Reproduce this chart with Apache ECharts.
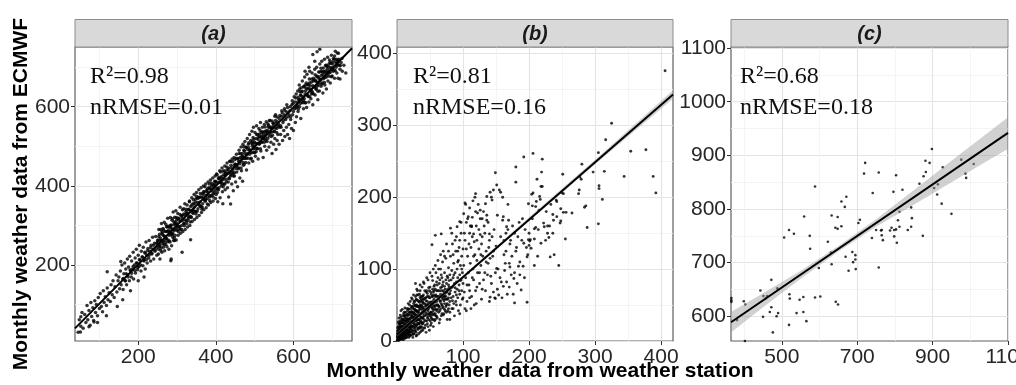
<!DOCTYPE html>
<html><head><meta charset="utf-8">
<script src="https://cdn.jsdelivr.net/npm/echarts@6/dist/echarts.min.js"></script>
<style>html,body{margin:0;padding:0;background:#fff;overflow:hidden}#c{width:1050px;height:385px}</style>
</head><body><div id="c"></div>
<script>
const panelLabels = ['(a)', '(b)', '(c)'];
const r2Labels = ['R\u00b2=0.98', 'R\u00b2=0.81', 'R\u00b2=0.68'];
const nrmseLabels = ['nRMSE=0.01', 'nRMSE=0.16', 'nRMSE=0.18'];
const xTitle = 'Monthly weather data from weather station';
const yTitle = 'Monthly weather data from ECMWF';

const xRangeA = [37, 751], yRangeA = [8, 751];
const xRangeB = [0, 418], yRangeB = [0, 409];
const xRangeC = [365, 1100], yRangeC = [554, 1102];

const xTicksA = [200, 400, 600], xMinorA = [100, 300, 500, 700];
const yTicksA = [200, 400, 600], yMinorA = [100, 300, 500, 700];
const xTicksB = [100, 200, 300, 400], xMinorB = [50, 150, 250, 350];
const yTicksB = [0, 100, 200, 300, 400], yMinorB = [50, 150, 250, 350];
const xTicksC = [500, 700, 900, 1100], xMinorC = [400, 600, 800, 1000];
const yTicksC = [600, 700, 800, 900, 1000, 1100], yMinorC = [650, 750, 850, 950, 1050];

const fitA = [[37, 40], [751, 748]];
const fitB = [[0, 9], [418, 343]];
const fitC = [[365, 589], [1100, 942]];
const bandB = [[0, 6, 12], [100, 87, 91], [200, 167, 172], [300, 246, 252], [418, 337, 349]];
const bandC = [[365, 570, 608], [450, 617, 643], [550, 670, 685], [650, 721, 731], [750, 767, 781],
  [850, 808, 835], [950, 850, 890], [1050, 892, 944], [1100, 912, 971]];

const pointsA = [
[45,30],[48,62],[52,45],[55,80],[58,40],[62,75],[65,55],[68,98],[70,62],[73,85],[76,48],[78,105],[80,70],[83,92],[85,60],[88,110],[90,80],[92,100],[95,72],[97,118],[100,90],[102,128],[105,95],[108,82],[110,135],[112,105],[115,120],[118,98],[120,142],[122,112],[125,130],[128,108],[130,150],[133,125],[135,160],[138,118],[140,145],[143,175],[145,132],[148,160],
[52,69],[51,31],[73,44],[86,56],[120,183],[155,209],[146,95],[160,112],[118,72],[95,55],[180,135],[200,160],[215,170],
[150,170],[152,140],[154,185],[156,150],[158,200],[160,165],[161,138],[163,178],[165,205],[167,160],[168,190],[170,150],[172,215],[173,175],[175,195],[177,160],[178,222],[180,185],[182,170],[183,210],[185,190],[187,232],[188,165],[190,200],[192,218],[193,180],[195,240],[197,205],[198,188],[200,225],[202,196],[203,250],[205,212],[207,185],[208,235],[210,220],[212,198],[213,245],[215,210],[217,232],[218,190],[220,258],[222,225],[223,205],[225,242],[227,218],[228,262],[230,235],[232,210],[233,250],[235,228],[237,270],[238,240],[240,215],[242,255],[243,235],[245,272],[247,245],[248,225],[250,262],
[162,166],[166,160],[169,178],[174,170],[179,188],[183,179],[187,196],[191,186],[195,205],[199,194],[203,214],[206,200],[211,220],[214,212],[218,230],[221,214],[224,236],[228,225],[232,244],[235,230],[239,250],[244,238],[247,255],
[251,263],[252,228],[253,290],[254,246],[255,278],[256,215],[257,262],[258,290],[259,243],[260,305],[261,232],[262,281],[263,258],[264,292],[265,245],[266,274],[267,308],[268,236],[269,285],[270,258],[271,303],[272,268],[273,297],[274,246],[275,285],[276,318],[277,259],[278,298],[279,240],[280,283],
[281,295],[282,258],[283,320],[284,276],[285,301],[286,249],[287,291],[288,317],[289,270],[290,334],[291,262],[292,309],[293,287],[294,321],[295,275],[296,303],[297,337],[298,263],[299,314],[300,288],
[302,330],[303,275],[305,318],[306,292],[308,346],[309,280],[311,324],[312,300],[314,340],[315,285],[317,329],[318,305],[320,355],[321,290],[323,335],[324,311],[326,352],[327,296],[329,340],[330,318],
[332,362],[333,300],[335,348],[336,322],[338,370],[339,310],[341,355],[342,330],[344,378],[345,315],[347,360],[348,335],[350,383],[351,320],[353,368],[354,342],[356,390],[357,325],[359,372],[360,348],
[362,395],[363,333],[365,380],[366,355],[368,400],[369,340],[371,385],[372,362],[374,405],[375,345],[377,390],[378,368],[380,410],[381,352],[383,395],[384,372],[386,415],[387,358],[389,400],[390,377],
[392,420],[393,362],[395,405],[396,383],[398,425],[399,368],[313,232],[285,215],[335,264],[284,211],
[250,257],[252,240],[253,272],[255,252],[257,268],[258,237],[260,262],[262,277],[263,254],[265,289],[267,251],[268,273],[270,269],[272,285],[273,266],[275,296],[277,263],[278,287],[280,261],[282,285],[283,300],[285,280],[287,313],[288,277],[290,290],[292,302],[293,269],[295,309],[297,291],[298,320],
[300,296],[302,318],[303,285],[305,313],[307,297],[308,328],[310,311],[312,290],[313,325],[315,313],[317,342],[318,305],[320,326],[322,314],[323,341],[325,305],[327,331],[328,313],[330,341],[332,360],[333,324],[335,338],[337,320],[338,352],[340,339],[342,365],[343,337],[345,354],[347,335],[348,367],
[350,374],[352,336],[353,358],[355,354],[357,370],[358,351],[360,381],[362,348],[363,372],[365,346],[367,370],[368,385],[370,365],[372,398],[373,362],[375,375],[377,387],[378,354],[380,394],[382,376],[383,405],[385,392],[387,375],[388,407],[390,387],[392,403],[393,372],[395,397],[397,412],[398,389],
[400,411],[402,430],[403,394],[405,408],[407,390],[408,422],[410,409],[412,435],[413,407],[415,424],[417,405],[418,437],[420,416],[422,438],[423,405],[425,433],[427,417],[428,448],[430,431],[432,410],[433,445],[435,433],[437,462],[438,425],[440,446],[442,434],[443,461],[445,425],[447,451],[448,433],
[400,410],[401,378],[403,428],[404,392],[405,360],[407,418],[408,395],[410,438],[411,370],[413,420],[414,400],[416,445],[417,385],[418,355],[420,428],[421,405],[423,450],[424,390],[426,432],[427,410],[429,458],[430,395],[432,440],[433,372],[435,418],[436,462],[438,354],[439,428],[441,405],[442,468],[444,440],[445,388],[447,472],[448,425],[450,455],[451,410],[453,480],[454,435],[456,398],[457,468],[459,445],[460,490],[462,420],[463,462],[465,498],[466,438],[468,475],[469,412],[470,505],[471,452],
[450,455],[452,444],[453,470],[455,453],[457,469],[458,443],[460,482],[462,456],[463,472],[465,445],[467,468],[468,482],[470,459],[472,499],[473,469],[475,482],[477,459],[478,497],[480,479],[482,492],[483,470],[485,509],[487,480],[488,491],[490,468],[492,508],[493,484],[495,506],[497,494],[498,518],
[500,484],[502,508],[503,493],[505,530],[507,507],[508,494],[510,523],[512,507],[513,531],[515,494],[517,522],[518,510],[520,537],[522,520],[523,535],[525,510],[527,549],[528,522],[530,539],[532,512],[533,534],[535,549],[537,526],[538,565],[540,536],[542,549],[543,525],[545,564],[547,546],[548,558],[550,537],[552,576],[553,546],[555,558],[557,535],[558,574],[560,551],
[472,490],[473,455],[475,512],[476,470],[478,498],[479,440],[481,520],[482,482],[484,505],[485,458],[487,530],[488,490],[490,515],[491,470],[493,538],[494,500],[495,462],[496,522],[497,548],[498,485],[500,510],[501,535],[502,475],[504,520],[505,552],[506,495],[508,530],[509,468],[511,545],[512,505],[513,525],[515,560],[516,488],[518,535],[519,510],[520,548],[522,472],[523,528],[525,555],[526,500],[527,538],[529,515],[530,562],[531,490],[533,540],[534,520],[536,553],[537,498],[539,532],[540,565],[542,510],[543,545],[545,482],[546,528],[548,558],[549,505],[551,538],[552,520],[554,565],[555,492],[557,545],[558,515],[560,530],
[562,555],[563,505],[565,578],[567,530],[568,548],[570,590],[572,515],[573,560],[575,540],[577,595],[578,525],[580,568],[582,548],[583,605],[585,530],[587,575],[588,555],[590,520],[592,600],[593,568],[595,545],[597,615],[598,580],[600,540],[602,625],[603,595],[605,560],[607,632],[608,575],[610,600],
[563,570],[567,552],[571,585],[574,566],[578,590],[581,572],[585,598],[589,580],[593,575],[596,605],[600,588],[604,612],[607,597],
[611,640],[612,588],[614,618],[615,655],[616,600],[618,630],[619,570],[620,648],[622,612],[623,665],[625,625],[626,595],[627,650],[629,675],[630,610],[631,640],[633,660],[634,598],[635,682],[637,628],[638,655],[640,612],[641,670],[642,690],[644,640],[645,620],[646,662],[648,685],[649,635],[650,605],[652,672],[653,650],[655,695],[656,630],[657,665],[659,645],[660,700],[661,675],[663,618],[664,655],[665,688],[667,640],[668,708],[669,670],[671,652],[672,690],[673,715],[675,660],[676,635],[677,698],[679,675],[680,720],[681,655],[683,690],[684,705],[685,645],[687,680],[688,725],[689,665],[691,700],[692,685],[694,712],[695,660],[697,695],[698,730],[700,678],[701,708],[703,690],[705,720],[706,672],[708,740],[710,700],[712,685],[714,718],[716,735],[718,705],[720,695],[723,712],[726,690],[730,705],[735,685],
[610,604],[612,624],[613,594],[615,619],[617,638],[618,608],[620,628],[622,620],[623,639],[625,610],[627,652],[628,620],[630,632],[632,610],[633,647],[635,631],[637,656],[638,626],[640,646],[642,625],[643,653],[645,644],[647,670],[648,639],[650,653],[652,632],[653,668],[655,650],[657,666],[658,645],
[660,678],[662,662],[663,639],[665,676],[667,660],[668,688],[670,667],[672,679],[673,657],[675,688],[677,671],[678,690],[680,661],[682,686],[683,704],[685,675],[687,695],[688,686],[690,706],[692,677],[693,718],[695,687],[697,699],[698,676],[700,714],[702,698],[703,722],[705,693],[707,713],[708,691],[710,720],[712,711],[713,736],[715,706],[717,720],
[661,739],[650,732],[668,745],[720,670],[715,672],[640,700],[655,715],[630,690],
[256,248],[261,284],[266,262],[271,252],[279,275],[284,296],[289,281],[294,262],[299,305],[304,298],[309,289],[314,318],[319,299],[324,331],[329,322],[334,309],[339,333],[344,346],[349,329],[354,371],[359,359],[364,341],[369,379],[374,366],[379,383],[384,363],[389,392],[394,380],[399,402],[404,383],[409,418],[414,412],[419,398],[424,427],[429,440],[434,420],[439,452],[444,431],[449,466],[454,450],[459,462],[464,481],[469,474],[474,488],[479,470],[484,497],[489,485],[494,512],[499,500],[504,486],[509,517],[514,540],[519,526],[524,518],[529,531],[534,557],[539,547],[544,536],[549,552],[554,580],[559,562],[564,548],[569,576],[576,580],[583,587],[591,590],[599,608],[606,622],[611,612],[616,645],[621,637],[626,615],[631,655],[636,645],[641,660],[646,632],[651,665],[656,681],[661,652],[666,670],[671,697],[676,682],[681,673],[686,702],[691,690],[696,709],[701,693],[706,728],[711,705],[716,715],[721,704],[725,722]
];

const pointsB = [
[1,2],[2,5],[2,12],[3,1],[3,8],[4,18],[4,4],[5,10],[5,25],[6,3],[6,15],[7,8],[7,30],[8,20],[8,2],[9,12],[9,35],[10,6],[10,22],[11,15],[11,40],[12,9],[12,28],[13,18],[13,4],[14,32],[14,12],[15,22],[15,45],[16,8],[16,27],[17,15],[17,38],[18,20],[18,5],[19,30],[19,50],[20,12],[20,25],
[3,15],[5,2],[6,20],[8,10],[10,30],[12,16],[14,6],[16,35],[18,14],[20,40],[1,8],[2,20],[4,28],[7,15],[9,5],[11,25],[13,36],[15,10],[17,24],[19,17],
[1,5],[1,14],[2,9],[2,26],[3,4],[3,19],[3,32],[4,11],[4,23],[5,6],[5,17],[5,36],[6,9],[6,27],[6,42],[7,3],[7,21],[7,12],[8,14],[8,30],[8,44],[9,19],[9,26],[9,8],[10,14],[10,38],[10,2],[11,9],[11,31],[11,20],[12,4],[12,23],[12,46],[13,12],[13,28],[13,40],[14,19],[14,25],[15,5],[15,30],[15,16],[16,21],[16,42],[16,14],[17,9],[17,31],[17,52],[18,26],[18,36],[18,10],[19,22],[19,7],[19,40],[20,18],[20,32],[20,55],
[0.5,1],[0.5,6],[1,11],[1,18],[2,1],[2,15],[3,11],[3,24],[4,7],[4,14],[5,13],[5,21],[6,6],[6,12],[6,33],[7,17],[7,25],[8,6],[8,25],[9,16],[9,29],[10,10],[10,18],[11,5],[11,12],[11,35],[12,19],[12,34],[13,8],[13,23],[14,15],[14,28],[15,19],[15,37],[16,11],[16,30],[17,19],[17,45],[18,30],[18,44],[19,12],[19,26],[20,8],[20,21],
[21,18],[21,37],[22,25],[22,41],[23,15],[23,47],[24,21],[24,32],[25,10],[25,45],[26,28],[26,38],[27,24],[27,49],[28,15],[28,50],[29,22],[29,42],[30,36],[30,57],[31,29],[31,48],[32,35],[32,64],[33,24],[33,48],[34,30],[34,54],[35,20],[35,50],[36,33],[36,62],[37,26],[37,50],[38,32],[38,62],[39,24],[39,47],[40,34],[40,58],
[43,40],[44,56],[45,44],[46,62],[47,50],[48,38],[49,70],[50,54],[51,34],[52,48],[53,38],[54,62],[55,42],[56,70],[57,36],[58,55],[59,44],[60,62],[61,50],[62,70],[63,48],[64,80],[66,56],[67,70],[68,50],[69,78],[71,62],[72,44],[73,66],[75,58],[77,72],[79,50],
[21,32],[21,8],[22,48],[22,20],[23,28],[23,58],[24,14],[24,38],[25,25],[25,52],[26,10],[26,34],[27,44],[27,18],[28,62],[28,28],[29,36],[29,12],[30,50],[30,22],[31,40],[31,70],[32,16],[32,30],[33,55],[33,42],[34,24],[34,65],[35,35],[35,12],[36,48],[36,28],[37,58],[37,20],[38,40],[38,75],[39,32],[39,15],[40,52],[40,26],
[22,35],[24,5],[26,55],[28,42],[30,8],[32,48],[34,38],[36,18],[38,55],[40,38],[21,15],[23,40],[25,18],[27,32],[29,48],[31,25],[33,18],[35,60],[37,45],[39,62],
[21,24],[21,45],[22,12],[22,28],[22,60],[23,20],[23,34],[24,26],[24,48],[24,9],[25,32],[25,40],[25,64],[26,22],[26,44],[27,14],[27,38],[27,55],[28,20],[28,34],[29,28],[29,58],[29,7],[30,30],[30,42],[30,64],[31,18],[31,34],[32,40],[32,56],[32,24],[33,10],[33,30],[34,46],[34,18],[35,26],[35,44],[35,70],[36,38],[36,56],[37,14],[37,32],[38,24],[38,48],[39,42],[39,54],[40,18],[40,64],[40,45],
[41,44],[41,80],[42,18],[42,35],[43,60],[43,28],[44,50],[44,12],[45,38],[45,70],[46,24],[46,55],[47,42],[47,85],[48,30],[48,62],[49,48],[49,15],[50,36],[50,75],[51,52],[51,22],[52,65],[52,40],[53,30],[53,90],[54,55],[54,45],[55,20],[55,68],[56,38],[56,58],[57,78],[57,28],[58,48],[58,62],[59,35],[59,95],[60,55],[60,42],
[42,52],[44,68],[46,32],[48,45],[50,60],[52,25],[54,72],[56,48],[58,30],[60,70],
[41,30],[41,58],[42,42],[42,70],[43,22],[43,48],[44,36],[44,60],[45,28],[45,50],[46,44],[46,66],[47,20],[47,34],[48,52],[48,74],[49,38],[49,60],[50,28],[50,48],[51,40],[51,68],[52,54],[52,32],[53,46],[53,62],[54,36],[54,84],[55,50],[55,30],[56,64],[56,76],[57,44],[57,54],[58,38],[58,72],[59,50],[59,64],[60,34],[60,82],
[61,32],[61,78],[62,50],[62,62],[63,40],[63,100],[64,70],[64,25],[65,55],[65,85],[66,45],[66,65],[67,35],[67,92],[68,60],[68,75],[69,48],[69,110],[70,58],[70,82],[71,38],[71,68],[72,52],[72,95],[73,72],[73,42],[74,62],[74,115],[75,50],[75,80],[76,68],[76,30],[77,88],[77,58],[78,45],[78,102],[79,65],[79,75],[80,55],[80,92],
[62,88],[64,48],[66,100],[68,38],[70,70],[72,62],[74,85],[76,52],[78,78],[80,40],
[62,44],[63,58],[64,62],[65,42],[66,74],[67,52],[68,88],[69,62],[70,46],[71,56],[72,76],[73,58],[74,48],[75,68],[76,90],[77,42],[78,60],[79,84],[80,66],[82,74],[84,56],[86,92],[88,74],[90,64],[92,110],[94,70],[96,84],[98,100],[65,30],[70,36],[75,40],[80,30],[85,45],[90,50],[95,38],[100,60],[105,42],[110,70],
[81,70],[81,118],[82,60],[82,85],[83,45],[83,98],[84,75],[84,135],[85,62],[85,88],[86,52],[86,108],[87,80],[87,35],[88,95],[88,68],[89,125],[89,55],[90,82],[90,145],[91,72],[91,100],[92,60],[92,88],[93,112],[93,42],[94,78],[94,130],[95,92],[95,65],[96,105],[96,50],[97,85],[97,150],[98,70],[98,118],[99,95],[99,58],[100,80],[100,128],
[101,105],[102,68],[103,140],[104,88],[105,165],[106,55],[107,118],[108,95],[109,78],[110,150],[111,108],[112,130],[113,62],[114,172],[115,100],[116,85],[117,138],[118,120],[119,70],[120,160],[121,112],[122,95],[123,190],[124,128],[125,80],[126,148],[127,105],[128,135],[129,72],[130,118],
[104,190],[110,185],[115,195],[118,200],[108,173],[113,160],[122,178],[126,170],[112,45],[120,52],
[102,150],[105,128],[107,170],[109,135],[111,160],[114,145],[116,118],[119,180],[121,140],[124,155],[127,120],[129,145],[131,180],[133,150],[135,110],[138,165],[139,130],[141,115],[144,145],[146,125],[95,140],[92,125],[97,165],[88,140],[85,120],[83,150],[78,125],[75,135],[72,118],[70,125],[66,120],[62,112],[58,105],[55,100],[50,95],[45,88],[40,82],[35,78],[30,72],[28,80],
[103,45],[106,78],[110,60],[114,88],[117,50],[121,75],[125,95],[128,58],[131,85],[134,70],[137,92],[140,55],[143,80],[146,68],[149,95],[152,72],[156,88],[159,60],[163,98],[166,82],[170,75],[173,92],[176,65],[182,80],[186,92],
[132,160],[133,95],[135,125],[136,175],[138,108],[140,140],[142,90],[143,200],[145,118],[147,155],[148,60],[150,132],[152,175],[153,100],[155,210],[157,145],[158,82],[160,168],[162,120],[165,150],[167,65],[168,190],[170,108],[172,140],[175,160],[178,95],[180,125],[183,145],[186,110],[190,170],[193,88],[196,130],[200,150],
[162,140],[165,125],[168,155],[171,135],[174,118],[178,150],[181,130],[185,165],[189,140],[194,155],[198,120],
[149,234],[151,217],[157,207],[160,200],[146,210],[141,207],[144,196],[180,221],[180,242],[136,201],[134,191],
[119,205],[103,192],[101,177],[95,166],[91,159],[126,182],[129,170],[81,157],[58,147],[67,149],[53,134],[113,159],[116,149],[136,168],[140,149],[169,168],[161,173],[166,159],
[164,108],[171,103],[151,101],[161,76],[154,64],[149,59],[141,61],[188,71],[197,54],[178,53],[177,87],[184,104],[191,104],
[406,376],[325,303],[316,280],[305,262],[354,264],[377,266],[388,229],[392,206],[344,229],[314,236],[306,216],[306,212],[311,197],[297,235],[280,246],[277,228],[276,210],[275,205],[286,188],[284,186],[288,158],[305,163],
[220,253],[206,261],[192,256],[219,235],[212,225],[218,215],[220,215],[206,206],[204,204],[216,201],[217,197],[199,191],[205,188],[210,187],[211,194],
[251,232],[250,206],[252,205],[241,196],[242,194],[248,184],[256,179],[252,179],[236,176],[279,225],[242,173],[237,168],[247,164],[248,167],[222,164],[223,159],[228,160],[208,156],[236,150],[228,150],[208,142],[202,141],[218,136],[192,136],[201,139],
[203,129],[232,117],[197,117],[199,141],[200,133],[230,144],[214,155],[231,160],[245,105],[238,120],[225,140],[213,118],[208,105],[255,142],[265,178],[205,170],[210,158],[215,182],[226,180],[233,190]
];

const pointsC = [
[366,634],[366,630],[366,627],[381,593],[399,628],[403,622],[402,554],
[443,648],[451,638],[461,638],[457,633],[472,668],[472,617],[468,608],[450,599],
[488,652],[490,606],[486,600],[476,570],[506,747],[519,761],[532,754],
[520,641],[521,633],[519,584],[539,606],[547,631],[557,636],[557,608],[565,591],
[559,786],[574,750],[575,726],[588,842],[588,635],[602,637],[598,690],
[622,739],[632,788],[630,719],[632,697],[643,627],[649,622],[648,785],
[642,765],[648,763],[658,768],[658,814],[671,823],[667,804],[669,711],[677,685],
[687,720],[695,714],[695,706],[689,701],[696,688],[703,774],[707,780],
[721,886],[718,866],[741,830],[739,746],[750,761],[757,868],[757,691],
[763,760],[765,751],[768,742],[765,761],[787,760],[791,765],[798,761],[798,749],
[796,832],[803,863],[805,737],[808,779],[812,795],[812,767],[803,762],[820,836],
[834,761],[843,767],[845,783],[843,803],[865,847],[874,750],[876,861],[882,869],
[881,890],[892,886],[898,912],[904,839],[912,827],[914,846],[924,810],[927,878],
[950,791],[976,892],[987,866],[989,858],[1009,884]
];

const SANS = 'Liberation Sans, Arial, sans-serif';
const SERIF = 'Liberation Serif, Times New Roman, serif';
const gridBoxes = [
  {left: 75, top: 47, width: 277, height: 294},
  {left: 397, top: 47, width: 276, height: 294},
  {left: 731, top: 47, width: 277, height: 294}
];
const panels = [
  {xr: xRangeA, yr: yRangeA, xt: xTicksA, xm: xMinorA, yt: yTicksA, ym: yMinorA, pts: pointsA, fit: fitA, band: null, size: 3.5},
  {xr: xRangeB, yr: yRangeB, xt: xTicksB, xm: xMinorB, yt: yTicksB, ym: yMinorB, pts: pointsB, fit: fitB, band: bandB, size: 2.9},
  {xr: xRangeC, yr: yRangeC, xt: xTicksC, xm: xMinorC, yt: yTicksC, ym: yMinorC, pts: pointsC, fit: fitC, band: bandC, size: 2.6}
];

const tickLabel = {
  formatter: v => '{v|' + v + '}',
  rich: {v: {fontSize: 21, color: '#262626', fontFamily: SANS}}
};

const grid = [], xAxis = [], yAxis = [], series = [], graphic = [];
panels.forEach((p, i) => {
  grid.push(Object.assign({show: true, borderColor: '#5f5f5f', borderWidth: 1.2, backgroundColor: 'transparent'}, gridBoxes[i]));
  xAxis.push({
    gridIndex: i, type: 'value', min: p.xr[0], max: p.xr[1], position: 'bottom',
    axisLine: {show: false},
    axisTick: {show: true, length: 4, lineStyle: {color: '#333', width: 1}, customValues: p.xt},
    axisLabel: Object.assign({customValues: p.xt, margin: 6, hideOverlap: false}, tickLabel),
    splitLine: {show: true, lineStyle: {color: '#e4e4e4', width: 1.1}}
  }, {
    gridIndex: i, type: 'value', min: p.xr[0], max: p.xr[1], position: 'top',
    axisLine: {show: false}, axisTick: {show: false, customValues: p.xm}, axisLabel: {show: false},
    splitLine: {show: true, lineStyle: {color: '#f1f1f1', width: 0.8}}
  });
  yAxis.push({
    gridIndex: i, type: 'value', min: p.yr[0], max: p.yr[1], position: 'left',
    axisLine: {show: false},
    axisTick: {show: true, length: 4, lineStyle: {color: '#333', width: 1}, customValues: p.yt},
    axisLabel: Object.assign({customValues: p.yt, margin: 5}, tickLabel),
    splitLine: {show: true, lineStyle: {color: '#e4e4e4', width: 1.1}}
  }, {
    gridIndex: i, type: 'value', min: p.yr[0], max: p.yr[1], position: 'right',
    axisLine: {show: false}, axisTick: {show: false, customValues: p.ym}, axisLabel: {show: false},
    splitLine: {show: true, lineStyle: {color: '#f1f1f1', width: 0.8}}
  });
  const xi = i * 2, yi = i * 2;
  series.push({
    type: 'scatter', xAxisIndex: xi, yAxisIndex: yi, data: p.pts, symbolSize: p.size,
    itemStyle: {color: '#000'}, silent: true, z: 3, animation: false
  });
  if (p.band) {
    const band = p.band;
    series.push({
      type: 'custom', xAxisIndex: xi, yAxisIndex: yi, data: [[band[0][0], band[0][1]]], silent: true, z: 4, clip: true,
      animation: false,
      renderItem: function (params, api) {
        const up = band.map(d => api.coord([d[0], d[2]]));
        const lo = band.slice().reverse().map(d => api.coord([d[0], d[1]]));
        return {type: 'polygon', shape: {points: up.concat(lo)}, style: {fill: 'rgba(153,153,153,0.45)'}};
      }
    });
  }
  series.push({
    type: 'line', xAxisIndex: xi, yAxisIndex: yi, data: p.fit, showSymbol: false, silent: true, z: 5,
    lineStyle: {color: '#000', width: 2}, animation: false
  });
  const g = gridBoxes[i];
  graphic.push({
    type: 'rect', shape: {x: g.left, y: 19.5, width: g.width, height: 27.5},
    style: {fill: '#d9d9d9', stroke: '#8c8c8c', lineWidth: 1}, z: 10
  });
  graphic.push({
    type: 'text', x: g.left + g.width / 2, y: 34,
    style: {text: panelLabels[i], font: 'italic bold 20px ' + SANS, fill: '#1a1a1a', textAlign: 'center', textVerticalAlign: 'middle'}, z: 11
  });
  const tx = g.left + (i === 0 ? 15 : (i === 1 ? 16 : 9));
  graphic.push({
    type: 'text', x: tx, y: 77,
    style: {text: r2Labels[i], font: '24px ' + SERIF, fill: '#111', textAlign: 'left', textVerticalAlign: 'middle'}, z: 11
  });
  graphic.push({
    type: 'text', x: tx, y: 108,
    style: {text: nrmseLabels[i], font: '24px ' + SERIF, fill: '#111', textAlign: 'left', textVerticalAlign: 'middle'}, z: 11
  });
});
graphic.push({
  type: 'text', x: 540, y: 371,
  style: {text: xTitle, font: 'bold 21px ' + SANS, fill: '#000', textAlign: 'center', textVerticalAlign: 'middle'}
});
graphic.push({
  type: 'text', x: 21, y: 194, rotation: Math.PI / 2,
  style: {text: yTitle, font: 'bold 21px ' + SANS, fill: '#000', textAlign: 'center', textVerticalAlign: 'middle'}
});

const chart = echarts.init(document.getElementById('c'), null, {renderer: 'canvas'});
chart.setOption({animation: false, grid, xAxis, yAxis, series, graphic});
</script></body></html>
